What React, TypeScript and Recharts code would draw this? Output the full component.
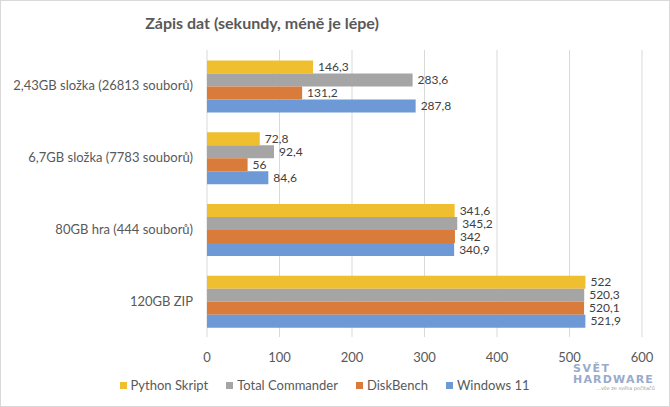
import { BarChart, Bar, XAxis, YAxis, CartesianGrid, Legend, LabelList } from "recharts"

const categories = ["2,43GB složka (26813 souborů)", "6,7GB složka (7783 souborů)", "80GB hra (444 souborů)", "120GB ZIP"]
const pythonSkript = [146.3, 72.8, 341.6, 522]
const totalCommander = [283.6, 92.4, 345.2, 520.3]
const diskBench = [131.2, 56, 342, 520.1]
const windows11 = [287.8, 84.6, 340.9, 521.9]
const xTicks = [0, 100, 200, 300, 400, 500, 600]

const series = [
    { key: "python", name: "Python Skript", color: "#F0BF2F", values: pythonSkript },
    { key: "tc", name: "Total Commander", color: "#A5A5A5", values: totalCommander },
    { key: "db", name: "DiskBench", color: "#D87B3B", values: diskBench },
    { key: "win", name: "Windows 11", color: "#6D99D7", values: windows11 },
]

const chartData = categories.map((name, i) => {
    const row: Record<string, string | number> = { name }
    series.forEach(s => { row[s.key] = s.values[i] })
    return row
})

const font = "Lato, 'Liberation Sans', sans-serif"
const textColor = "#595959"

const formatNum = (v: any) => String(v).replace(".", ",")

function LegendContent() {
    return (
        <div style={{ display: "flex", justifyContent: "center", gap: 18, fontFamily: font, fontSize: 13, color: textColor, paddingLeft: 6 }}>
            {series.map(s => (
                <div key={s.key} style={{ display: "flex", alignItems: "center" }}>
                    <span style={{ display: "inline-block", width: 7, height: 7, background: s.color, marginRight: 4 }} />
                    {s.name}
                </div>
            ))}
        </div>
    )
}

export default function App() {
    return (
        <div style={{ position: "absolute", left: 0, top: 0, width: 670, height: 407, boxSizing: "border-box", border: "1px solid #D9D9D9", background: "#fff" }}>
            <div style={{ position: "absolute", left: 0, top: 12, width: 522, textAlign: "center", fontFamily: font, fontWeight: "bold", fontSize: 16, color: textColor }}>
                Zápis dat (sekundy, méně je lépe)
            </div>
            <BarChart width={668} height={405} data={chartData} layout="vertical"
                margin={{ top: 49, right: 27, left: 0, bottom: 5 }}
                barCategoryGap="14.5%" barGap={0}>
                <CartesianGrid horizontal={false} stroke="#D9D9D9" />
                <XAxis type="number" domain={[0, 600]} ticks={xTicks} axisLine={false} tickLine={false}
                    tickSize={0} tickMargin={16} height={40}
                    tick={{ fill: textColor, fontSize: 13, fontFamily: font }} />
                <YAxis type="category" dataKey="name" width={206} axisLine={false} tickLine={false}
                    tickSize={0} tickMargin={14}
                    tick={{ fill: textColor, fontSize: 13, fontFamily: font }} />
                <Legend verticalAlign="bottom" height={24} wrapperStyle={{ bottom: 5 }} content={<LegendContent />} />
                {series.map(s => (
                    <Bar key={s.key} dataKey={s.key} name={s.name} fill={s.color} isAnimationActive={false}>
                        <LabelList dataKey={s.key} position="right" offset={5} formatter={formatNum}
                            style={{ fill: "#404040", fontSize: 12, fontFamily: font }} />
                    </Bar>
                ))}
            </BarChart>
            <div style={{ position: "absolute", left: 572, top: 362, width: 82, fontFamily: "'DejaVu Sans', sans-serif", color: "#9AAACB", lineHeight: 1 }}>
                <div style={{ fontSize: 11, fontWeight: "bold", letterSpacing: 1.5 }}>SVĚT</div>
                <div style={{ fontSize: 11, fontWeight: "bold", letterSpacing: 1.2 }}>HARDWARE</div>
                <div style={{ fontSize: 5, textAlign: "right", marginTop: 1, color: "#A0A0A0" }}>...vše ze světa počítačů</div>
            </div>
        </div>
    )
}
